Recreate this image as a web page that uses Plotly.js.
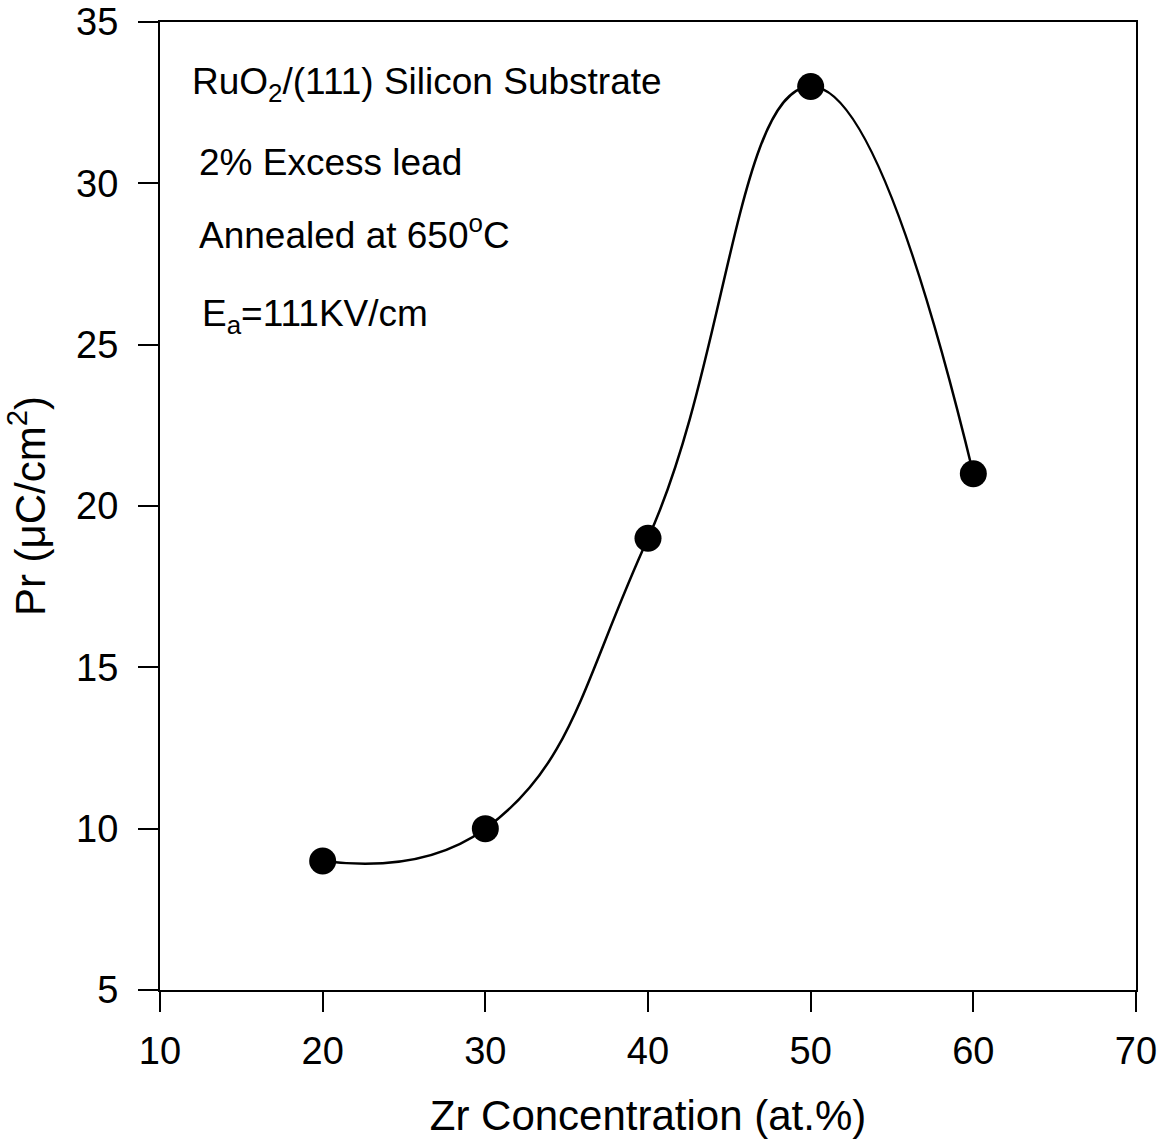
<!DOCTYPE html>
<html>
<head>
<meta charset="utf-8">
<script src="https://cdn.plot.ly/plotly-3.0.1.min.js"></script>
<style>
  html, body { margin: 0; padding: 0; background: #ffffff; }
  #chart { width: 1168px; height: 1144px; }
</style>
</head>
<body>
<div id="chart"></div>
<script>
// Remanent polarization versus Zr content
const zrConcentration = [20, 30, 40, 50, 60];
const remanentPolarization = [9, 10, 19, 33, 21];

const xTickValues = [10, 20, 30, 40, 50, 60, 70];
const yTickValues = [5, 10, 15, 20, 25, 30, 35];

const noteLines = [
  'RuO<sub>2</sub>/(111) Silicon Substrate',
  '2% Excess lead',
  'Annealed at 650<sup>o</sup>C',
  'E<sub>a</sub>=111KV/cm'
];
const noteY = [0.936, 0.855, 0.783, 0.696];
const noteX = [0.031, 0.038, 0.038, 0.041];

const FONT = 'Liberation Sans, Arial, Helvetica, sans-serif';

const traces = [
  {
    x: zrConcentration,
    y: remanentPolarization,
    type: 'scatter',
    mode: 'lines',
    line: { color: '#000000', width: 2.5, shape: 'spline', smoothing: 1.3 },
    hoverinfo: 'skip',
    showlegend: false
  },
  {
    x: zrConcentration,
    y: remanentPolarization,
    type: 'scatter',
    mode: 'markers',
    marker: { color: '#000000', size: 27, symbol: 'circle' },
    showlegend: false
  }
];

const axisCommon = {
  showgrid: false,
  zeroline: false,
  showline: true,
  mirror: true,
  linecolor: '#000000',
  linewidth: 2,
  ticks: 'outside',
  ticklen: 20,
  tickwidth: 2,
  tickcolor: '#000000',
  tickfont: { family: FONT, size: 38, color: '#000000' }
};

const layout = {
  width: 1168,
  height: 1144,
  margin: { l: 160, r: 32, t: 22, b: 154 },
  paper_bgcolor: '#ffffff',
  plot_bgcolor: '#ffffff',
  font: { family: FONT, color: '#000000' },
  xaxis: Object.assign({}, axisCommon, {
    range: [10, 70],
    tickmode: 'array',
    tickvals: xTickValues,
    ticktext: xTickValues.map(String),
    ticklabelstandoff: 6,
    title: { text: 'Zr Concentration (at.%)', font: { family: FONT, size: 42, color: '#000000' }, standoff: 30 }
  }),
  yaxis: Object.assign({}, axisCommon, {
    range: [5, 35],
    tickmode: 'array',
    tickvals: yTickValues,
    ticktext: yTickValues.map(String),
    ticklabelstandoff: 12,
    title: { text: 'Pr (\u03bcC/cm<sup>2</sup>)', font: { family: FONT, size: 42, color: '#000000' }, standoff: 20 }
  }),
  annotations: noteLines.map((t, i) => ({
    text: t,
    xref: 'paper',
    yref: 'paper',
    x: noteX[i],
    y: noteY[i],
    xanchor: 'left',
    yanchor: 'middle',
    showarrow: false,
    font: { family: FONT, size: 37, color: '#000000' }
  }))
};

Plotly.newPlot('chart', traces, layout, { staticPlot: true, displayModeBar: false });
</script>
</body>
</html>
